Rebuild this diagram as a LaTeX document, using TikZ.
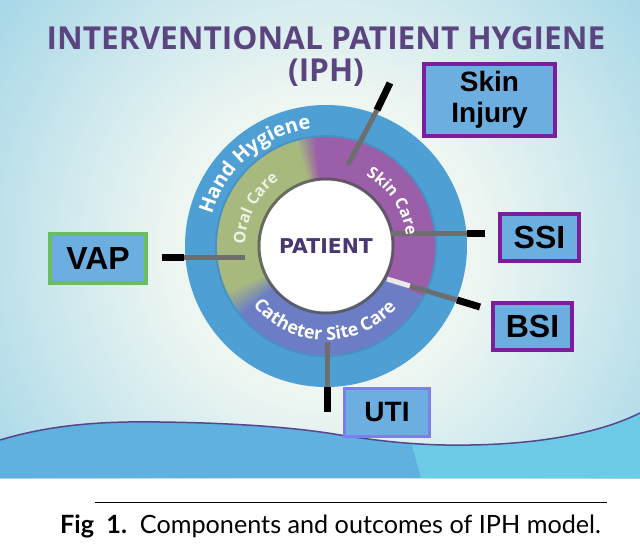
\documentclass[tikz,border=0pt]{standalone}
\usepackage{fontspec}
\setmainfont{Open Sans}
\newfontfamily\boxfont{Liberation Sans}
\newfontfamily\patfont{DejaVu Sans}
\newfontfamily\capfont{Lato}
\usetikzlibrary{positioning,calc,decorations.text}

\definecolor{bgblue}{HTML}{A9D8E8}
\definecolor{bgmid}{HTML}{D2EAEE}
\definecolor{bghalo}{HTML}{EEF6F2}
\definecolor{ringblue}{HTML}{4E9FD3}
\definecolor{ringgreen}{HTML}{A8B97E}
\definecolor{ringpurple}{HTML}{9B5EA8}
\definecolor{ringviolet}{HTML}{6C7DC5}
\definecolor{rimgray}{HTML}{4F5050}
\definecolor{titlepurple}{HTML}{5B4480}
\definecolor{patpurple}{HTML}{4A3670}
\definecolor{boxblue}{HTML}{6DAEE0}
\definecolor{boxpurple}{HTML}{7A1E9E}
\definecolor{boxgreen}{HTML}{6BBE5F}
\definecolor{boxviolet}{HTML}{7E7EF2}
\definecolor{wavedark}{HTML}{60B0E0}
\definecolor{wavelight}{HTML}{6ECBE8}
\definecolor{waveline}{HTML}{56468A}
\definecolor{stubgray}{HTML}{6E6E6E}

\pgfdeclareradialshading{halo}{\pgfpoint{0bp}{0bp}}{color(0bp)=(bghalo); color(9.5bp)=(bghalo); color(16bp)=(bgmid); color(25bp)=(bgblue); color(50bp)=(bgblue)}

\newcommand{\wavecurve}{(0,440) .. controls (50,425) and (100,421) .. (160,422) .. controls (240,423) and (300,428) .. (340,435) .. controls (380,441) and (420,446) .. (470,445) .. controls (540,444) and (600,433) .. (640,413)}

\tikzset{
  titletext/.style={text=titlepurple, font=\bfseries\fontsize{31.6}{31.6}\selectfont, inner sep=0pt},
  outcome/.style={draw=boxpurple, line width=4pt, fill=boxblue, inner sep=0pt, align=center,
    font=\boxfont\bfseries\fontsize{32}{32}\selectfont},
  stub/.style={draw=stubgray, line width=5pt},
  tip/.style={draw=black, line width=7pt},
  ringlabel/.style={decorate, decoration={text along path, text align=center, text color=white, text={#1}}},
}

\begin{document}
\begin{tikzpicture}[x=1pt,y=-1pt]
    \useasboundingbox (0,0) rectangle (640,546);

    % Background
    \begin{scope}
        \clip (0,0) rectangle (640,478);
        \fill[bgblue] (0,0) rectangle (640,478);
        \shade[shading=halo] (326,246) circle (400);
    \end{scope}

    % Wave
    \fill[wavedark] \wavecurve -- (640,478) -- (0,478) -- cycle;
    \begin{scope}
        \clip \wavecurve -- (640,478) -- (0,478) -- cycle;
        \fill[wavelight] (408,430) -- (640,400) -- (640,478) -- (421,478) -- cycle;
    \end{scope}
    \draw[waveline, line width=1.5pt] \wavecurve;

    % Title
    \node[titletext] (title) at (326,38) {INTERVENTIONAL PATIENT HYGIENE};
    \node[titletext] (iph) at (326,73) {(IPH)};

    % Rings
    \coordinate (ctr) at (326,246);
    \fill[ringblue] (ctr) circle (141);
    \draw[ringblue!80!black, line width=2pt, opacity=.4] (ctr) circle (110);
    \draw[ringpurple, line width=43pt] (ctr) ++(28:87.5) arc[start angle=28, end angle=-95.5, radius=87.5];
    \draw[ringgreen, line width=43pt] (ctr) ++(-104.5:87.5) arc[start angle=-104.5, end angle=-205.5, radius=87.5];
    \draw[ringviolet, line width=43pt] (ctr) ++(-219.5:87.5) arc[start angle=-219.5, end angle=-332, radius=87.5];
    \foreach \k [evaluate=\k as \p using int(10*\k)] in {0,...,9}
        \draw[ringgreen!\p!ringpurple, line width=43pt] (ctr) ++({-95-\k}:87.5) arc[start angle={-95-\k}, end angle={-96.2-\k}, radius=87.5];
    \foreach \k [evaluate=\k as \p using int(100-\k*100/14)] in {0,...,14}
        \draw[ringgreen!\p!ringviolet, line width=43pt] (ctr) ++({-205-\k}:87.5) arc[start angle={-205-\k}, end angle={-206.2-\k}, radius=87.5];
    \fill[white] (ctr) circle (66);
    \draw[rimgray, line width=3pt, opacity=.75] (ctr) circle (67);

    % Outcome boxes
    \node[outcome, minimum width=131pt, minimum height=72pt, font=\boxfont\bfseries\fontsize{28}{31}\selectfont] (skin) at (489.5,100) {Skin\\Injury};
    \node[outcome, minimum width=79pt, minimum height=47pt] (ssi) at (539.5,237.5) {SSI};
    \node[outcome, minimum width=79pt, minimum height=47pt] (bsi) at (532.5,326.5) {BSI};
    \node[outcome, draw=boxgreen, minimum width=96pt, minimum height=49pt] (vap) at (98,258.5) {VAP};
    \node[outcome, draw=boxviolet, line width=3pt, minimum width=85pt, minimum height=48pt, font=\boxfont\bfseries\fontsize{28}{28}\selectfont] (uti) at (387,412.5) {UTI};

    % Connector ends
    \coordinate (skin-a) at (348,165);
    \coordinate (skin-b) at (377,110);
    \coordinate (skin-c) at (390,83);
    \coordinate (ssi-a) at (391,233);
    \coordinate (ssi-b) at (467,233);
    \coordinate (ssi-c) at (485,233);
    \coordinate (bsi-a) at (387,279);
    \coordinate (bsi-m) at (410,286);
    \coordinate (bsi-b) at (457,300);
    \coordinate (bsi-c) at (480,307);
    \coordinate (vap-a) at (245,257);
    \coordinate (vap-b) at (184,257);
    \coordinate (vap-c) at (162,257);
    \coordinate (uti-a) at (327,342);
    \coordinate (uti-b) at (327,387);
    \coordinate (uti-c) at (327,412);

    % Connectors
    \draw[stub] (skin-a) -- (skin-b);
    \draw[tip] (skin-b) -- (skin-c);
    \draw[stub] (ssi-a) -- (ssi-b);
    \draw[tip] (ssi-b) -- (ssi-c);
    \draw[stub, draw=white!85!stubgray] (bsi-a) -- (bsi-m);
    \draw[stub] (bsi-m) -- (bsi-b);
    \draw[tip] (bsi-b) -- (bsi-c);
    \draw[stub] (vap-a) -- (vap-b);
    \draw[tip] (vap-b) -- (vap-c);
    \draw[stub] (uti-a) -- (uti-b);
    \draw[tip] (uti-b) -- (uti-c);

    % Ring labels
    \path[ringlabel={|\bfseries\fontsize{20}{20}\selectfont|Hand Hygiene}] (ctr) ++(-181:118) arc[start angle=-181, end angle=-81, radius=118];
    \path[ringlabel={|\color{ringgreen!20!white}\bfseries\fontsize{16}{16}\selectfont|Oral Care}] (ctr) ++(-192:81) arc[start angle=-192, end angle=-112, radius=81];
    \path[ringlabel={|\bfseries\fontsize{16}{16}\selectfont|Skin Care}] (ctr) ++(-76:81) arc[start angle=-76, end angle=8, radius=81];
    \path[ringlabel={|\bfseries\fontsize{18}{18}\selectfont|Catheter Site Care}] (ctr) ++(153:94) arc[start angle=153, end angle=29, radius=94];

    \node[text=patpurple, font=\patfont\bfseries\fontsize{20.4}{20.4}\selectfont, inner sep=0pt] (pat) at (ctr) {PATIENT};

    % Caption
    \draw[line width=0.8pt] (95,502) -- (607,502);
    \node[anchor=base west, inner sep=0pt, font=\capfont\fontsize{25.2}{25.2}\selectfont] (cap) at (60,533) {\textbf{Fig\ \ 1.}\ \ Components and outcomes of IPH model.};
\end{tikzpicture}
\end{document}
